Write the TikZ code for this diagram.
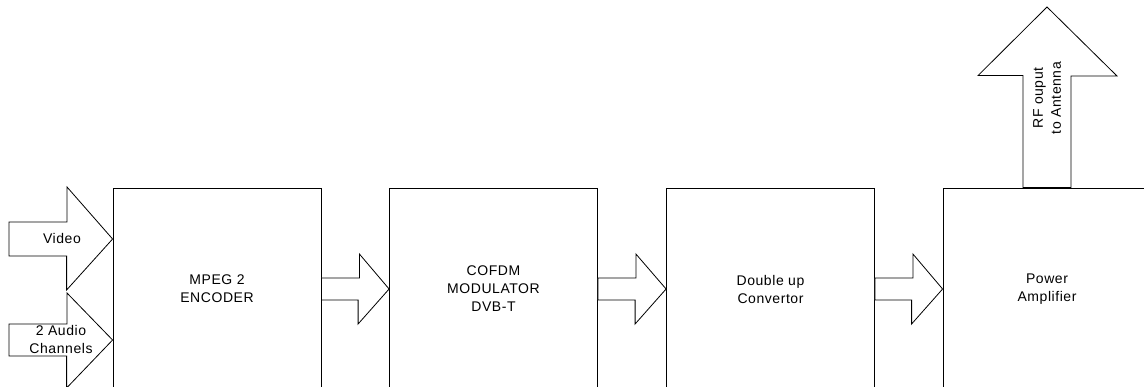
\documentclass[tikz,border=0pt]{standalone}
\usepackage{fontspec}
\setmainfont{Liberation Sans}[LetterSpace=4]
\usetikzlibrary{calc}
\tikzset{
  blk/.style={draw, line width=0.8pt, minimum width=208pt, minimum height=202pt, align=center, inner sep=0pt},
  arr/.style={draw, line width=0.8pt, fill=white, line join=miter},
  lbl/.style={align=center, inner sep=0pt},
}
\begin{document}
\begin{tikzpicture}[x=1pt,y=-1pt,font=\fontsize{14pt}{18pt}\selectfont]
\useasboundingbox (0,0) rectangle (1144,387);
\clip (0,0) rectangle (1144,387);
\node[blk] (b1) at (217,289) {MPEG 2\\ENCODER};
\node[blk] (b2) at (493.5,289) {COFDM\\MODULATOR\\DVB-T};
\node[blk] (b3) at (770.5,289) {Double up\\Convertor};
\node[blk] (b4) at (1047,289) {Power\\Amplifier};
% connecting block arrows
\foreach \a/\b in {b1/b2,b2/b3,b3/b4}{
  \draw[arr] ([yshift=11pt]\a.east) -- ++(38,0) -- ++(0,-24) -- (\b.west)
    -- ++(-31,35) -- ++(0,-24) -- ([yshift=-11pt]\a.east) -- cycle;
}
% input arrows
\coordinate (vin) at (9,239);
\coordinate (ain) at (9,340);
\draw[arr] ($(vin)+(0,-17)$) -- ++(58,0) -- ++(0,-35) -- (vin -| b1.west)
  -- ++(-46,51) -- ++(0,-34) -- ($(vin)+(0,17)$) -- cycle;
\draw[arr] ($(ain)+(0,-16)$) -- ++(58,0) -- ++(0,-31) -- (ain -| b1.west)
  -- ++(-46,48) -- ++(0,-32) -- ($(ain)+(0,16)$) -- cycle;
\node[lbl] (tv) at (62,238) {Video};
\node[lbl] (ta) at (61,339) {2 Audio\\Channels};
% output arrow
\coordinate (ant) at (1047,7);
\draw[arr] ([xshift=-24pt]b4.north) -- ++(0,-112) -- ++(-45,0) -- (ant)
  -- ++(70,69) -- ++(-46,0) -- ([xshift=24pt]b4.north) -- cycle;
\node[lbl, rotate=90] (trf) at (1047,98) {RF ouput\\to Antenna};
\end{tikzpicture}
\end{document}
